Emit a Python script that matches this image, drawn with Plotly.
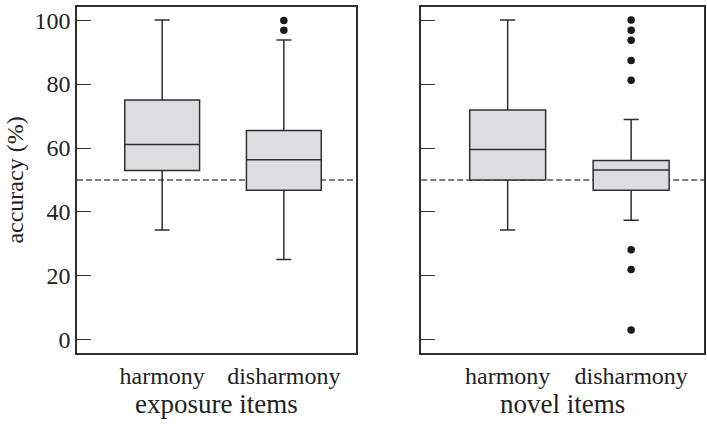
import plotly.graph_objects as go
from plotly.subplots import make_subplots

categories = ["harmony", "disharmony"]
panels = ["exposure items", "novel items"]

# exposure items
exp_q1 = [53.0, 46.8]
exp_median = [61.1, 56.3]
exp_q3 = [75.0, 65.5]
exp_lower = [34.4, 25.1]
exp_upper = [100.0, 93.8]
exp_outliers_dis = [99.9, 96.8]

# novel items
nov_q1 = [50.0, 46.8]
nov_median = [59.5, 53.1]
nov_q3 = [71.9, 56.1]
nov_lower = [34.4, 37.4]
nov_upper = [100.0, 68.9]
nov_outliers_dis = [100.0, 96.8, 93.7, 87.4, 81.2, 28.2, 22.0, 3.1]

chance = 50
yticks = [0, 20, 40, 60, 80, 100]

FONT = "Liberation Serif"
LINE = "#2e2e2e"
FILL = "#dcdde0"
TXT = "#222222"

fig = make_subplots(rows=1, cols=2, shared_yaxes=False, horizontal_spacing=0.105)

def add_panel(col, q1, med, q3, lo, hi, outl):
    for i, c in enumerate(categories):
        fig.add_trace(go.Box(
            x=[c], q1=[q1[i]], median=[med[i]], q3=[q3[i]],
            lowerfence=[lo[i]], upperfence=[hi[i]],
            boxpoints=False, width=0.615, whiskerwidth=0.2,
            fillcolor=FILL, line=dict(color=LINE, width=1.5),
            showlegend=False, hoverinfo="skip"), row=1, col=col)
    fig.add_trace(go.Scatter(
        x=[categories[1]] * len(outl), y=outl, mode="markers",
        marker=dict(color="#1a1a1a", size=7.5),
        showlegend=False, hoverinfo="skip"), row=1, col=col)

add_panel(1, exp_q1, exp_median, exp_q3, exp_lower, exp_upper, exp_outliers_dis)
add_panel(2, nov_q1, nov_median, nov_q3, nov_lower, nov_upper, nov_outliers_dis)

for col, xr in [(1, "x"), (2, "x2")]:
    fig.add_shape(type="line", xref=f"{xr} domain", yref="y" if col == 1 else "y2",
                  x0=0, x1=1, y0=chance, y1=chance,
                  line=dict(color="#555555", width=1.3, dash="6px,3px"), layer="below")

axis_common = dict(showline=True, linecolor=LINE, linewidth=1.5, mirror=True,
                   showgrid=False, zeroline=False)

fig.update_xaxes(**axis_common, type="category", categoryorder="array",
                 categoryarray=categories, range=[-0.70, 1.59], ticks="",
                 tickfont=dict(family=FONT, size=24, color=TXT),
                 title_font=dict(family=FONT, size=27, color=TXT), title_standoff=6)
fig.update_xaxes(title_text=panels[0], row=1, col=1)
fig.update_xaxes(title_text=panels[1], row=1, col=2)

fig.update_yaxes(**axis_common, range=[-4.1, 104.1], tickvals=yticks,
                 ticks="inside", ticklen=14, tickcolor=LINE, tickwidth=1.3,
                 tickfont=dict(family=FONT, size=24, color=TXT))
fig.update_yaxes(title_text="accuracy (%)", title_font=dict(family=FONT, size=24, color=TXT),
                 title_standoff=4, row=1, col=1)
fig.update_yaxes(showticklabels=False, row=1, col=2)

fig.update_layout(width=707, height=425, margin=dict(l=77, r=1, t=7, b=72),
                  plot_bgcolor="white", paper_bgcolor="white")
fig.update_layout(xaxis=dict(domain=[0, 0.4444]), xaxis2=dict(domain=[0.549, 1.0]))

fig.write_html("out.html")
